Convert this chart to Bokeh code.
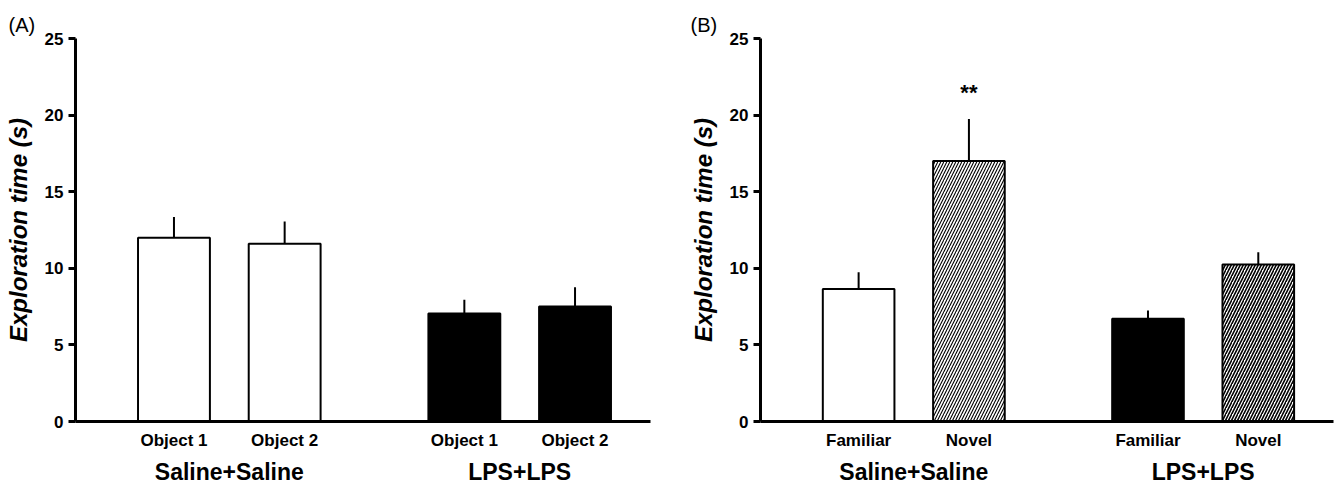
from bokeh.plotting import figure
from bokeh.models import Range1d, LinearAxis, FixedTicker, ColumnDataSource
from bokeh.layouts import row
from bokeh.embed import file_html
from bokeh.resources import INLINE
from bokeh.core.properties import value

# ---------------- data ----------------
groups = ["Saline+Saline", "LPS+LPS"]
y_ticks = [0, 5, 10, 15, 20, 25]
y_label = "Exploration time (s)"

# Panel A
items_a = ["Object 1", "Object 2"]
mean_a_saline = [12.0, 11.6]
sem_a_saline = [1.35, 1.45]
mean_a_lps = [7.05, 7.5]
sem_a_lps = [0.9, 1.27]

# Panel B
items_b = ["Familiar", "Novel"]
mean_b_saline = [8.65, 17.0]
sem_b_saline = [1.1, 2.75]
mean_b_lps = [6.7, 10.25]
sem_b_lps = [0.55, 0.8]
sig_b_saline = ["", "**"]
sig_b_lps = ["", ""]

# ---------------- layout constants ----------------
FONT = "Liberation Sans"
OFFSET = 137     # centre of first bar (x units)
STEP = 154       # distance between bars within a group
GSTEP = 404      # distance between groups
BAR_W = 100
XMAX = 800
HEIGHT = 487
TOP = 38
BOTTOM = 66


def make_panel(letter, items, means, sems, sigs, hatched, width, left_border, right_border,
               title_offset):
    p = figure(width=width, height=HEIGHT, output_backend="svg", toolbar_location=None, tools="",
               x_range=Range1d(0, XMAX), y_range=Range1d(0, 25),
               min_border_left=left_border, min_border_right=right_border,
               min_border_top=TOP, min_border_bottom=BOTTOM)
    p.outline_line_color = None
    p.xgrid.visible = False
    p.ygrid.visible = False
    p.background_fill_color = "white"

    xs, tops, errs, fills, hpat, hw, labels = [], [], [], [], [], [], {}
    sx, sy, st = [], [], []
    for gi, g in enumerate(groups):
        for ii, it in enumerate(items):
            x = OFFSET + gi * GSTEP + ii * STEP
            xs.append(x)
            tops.append(means[gi][ii])
            errs.append(means[gi][ii] + sems[gi][ii])
            labels[x] = it
            if hatched and ii == 1:
                fills.append("white")
                hpat.append("/")
                hw.append(1.1 if gi == 0 else 1.6)
            else:
                fills.append("white" if gi == 0 else "black")
                hpat.append(" ")
                hw.append(1.0)
            if sigs is not None and sigs[gi][ii]:
                sx.append(x)
                sy.append(means[gi][ii] + sems[gi][ii] + 1.75)
                st.append(sigs[gi][ii])

    src = ColumnDataSource(dict(x=xs, top=tops, err=errs, fill=fills, hp=hpat, hw=hw))
    p.segment(x0="x", y0="top", x1="x", y1="err", source=src, line_color="black", line_width=2)
    p.vbar(x="x", top="top", bottom=0, width=BAR_W, source=src, fill_color="fill",
           line_color="black", line_width=2, hatch_pattern="hp", hatch_color="black",
           hatch_weight="hw", hatch_scale=6)
    if sx:
        p.text(x=sx, y=sy, text=st, text_align="center", text_baseline="alphabetic",
               text_font=value(FONT), text_font_size="22px", text_font_style="bold",
               text_color="black")

    # y axis
    ya = p.yaxis[0]
    ya.ticker = FixedTicker(ticks=y_ticks)
    ya.axis_line_width = 3
    ya.axis_line_color = "black"
    ya.major_tick_line_width = 3
    ya.major_tick_line_color = "black"
    ya.major_tick_out = 7
    ya.major_tick_in = 0
    ya.minor_tick_line_color = None
    ya.major_label_text_font = FONT
    ya.major_label_text_font_size = "17px"
    ya.major_label_text_font_style = "bold"
    ya.major_label_text_color = "black"
    ya.major_label_standoff = 5
    ya.axis_label = y_label
    ya.axis_label_text_font = FONT
    ya.axis_label_text_font_size = "24px"
    ya.axis_label_text_font_style = "bold italic"
    ya.axis_label_text_color = "black"
    ya.axis_label_standoff = 10

    # x axis (items)
    xa = p.xaxis[0]
    xa.ticker = FixedTicker(ticks=xs)
    xa.major_label_overrides = labels
    xa.axis_line_width = 3
    xa.axis_line_color = "black"
    xa.major_tick_line_color = None
    xa.major_tick_out = 0
    xa.major_tick_in = 0
    xa.minor_tick_line_color = None
    xa.major_label_text_font = FONT
    xa.major_label_text_font_size = "17px"
    xa.major_label_text_font_style = "bold"
    xa.major_label_text_color = "black"
    xa.major_label_standoff = 9

    # group axis
    gcent = [OFFSET + gi * GSTEP + STEP // 2 for gi in range(len(groups))]
    ga = LinearAxis(ticker=FixedTicker(ticks=gcent),
                    major_label_overrides={c: g for c, g in zip(gcent, groups)})
    ga.axis_line_color = None
    ga.major_tick_line_color = None
    ga.minor_tick_line_color = None
    ga.major_tick_out = 0
    ga.major_tick_in = 0
    ga.major_label_text_font = FONT
    ga.major_label_text_font_size = "23px"
    ga.major_label_text_font_style = "bold"
    ga.major_label_text_color = "black"
    ga.major_label_standoff = 6
    p.add_layout(ga, "below")

    # panel letter
    p.title.text = letter
    p.title.text_font = FONT
    p.title.text_font_size = "20px"
    p.title.text_font_style = "normal"
    p.title.text_color = "black"
    p.title.align = "left"
    p.title.offset = title_offset
    p.title.standoff = 6
    return p


pa = make_panel("(A)", items_a, [mean_a_saline, mean_a_lps], [sem_a_saline, sem_a_lps],
                None, False, 680, 75, 30, -67)
pb = make_panel("(B)", items_b, [mean_b_saline, mean_b_lps], [sem_b_saline, sem_b_lps],
                [sig_b_saline, sig_b_lps], True, 657, 80, 4, -70)

layout = row(pa, pb)
open("out.html", "w").write(file_html(layout, INLINE))
